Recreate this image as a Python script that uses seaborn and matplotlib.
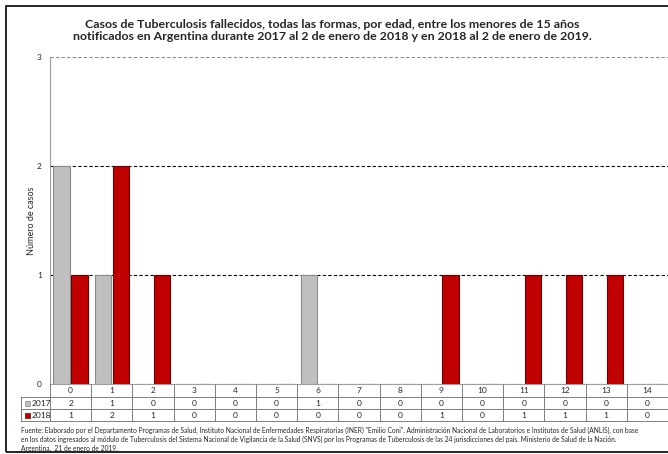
import numpy as np
import pandas as pd
import seaborn as sns
import matplotlib.pyplot as plt
from matplotlib.patches import Rectangle

# datos
edades = list(range(15))
casos_2017 = [2, 1, 0, 0, 0, 0, 1, 0, 0, 0, 0, 0, 0, 0, 0]
casos_2018 = [1, 2, 1, 0, 0, 0, 0, 0, 0, 1, 0, 1, 1, 1, 0]
anios = ["2017", "2018"]
colores = {"2017": "#bfbfbf", "2018": "#c00000"}
bordes = {"2017": "#8c8c8c", "2018": "#6b0000"}

titulo = ("Casos de Tuberculosis fallecidos, todas las formas, por edad, entre los menores de 15 años\n"
          "notificados en Argentina durante 2017 al 2 de enero de 2018 y en 2018 al 2 de enero de 2019.")
fuente = ("Fuente: Elaborado por el Departamento Programas de Salud, Instituto Nacional de Enfermedades Respiratorias (INER) \"Emilio Coni\", Administración Nacional de Laboratorios e Institutos de Salud (ANLIS), con base\n"
          "en los datos ingresados al módulo de Tuberculosis del Sistema Nacional de Vigilancia de la Salud (SNVS) por los Programas de Tuberculosis de las 24 jurisdicciones del país. Ministerio de Salud de la Nación.\n"
          "Argentina,  21 de enero de 2019.")

df = pd.DataFrame({
    "edad": edades * 2,
    "anio": ["2017"] * len(edades) + ["2018"] * len(edades),
    "casos": casos_2017 + casos_2018,
})

sns.set_style("white")
plt.rcParams["font.family"] = ["Lato", "DejaVu Sans"]

W, H = 668, 454
fig = plt.figure(figsize=(W / 100, H / 100), dpi=100)
ax = fig.add_axes([50 / W, 1 - 384 / H, 618 / W, 327 / H])

sns.barplot(data=df, x="edad", y="casos", hue="anio", palette=colores,
            width=0.87, gap=0.08, legend=False, ax=ax, saturation=1)

# bordes de barras
for cont, a in zip(ax.containers, anios):
    for p in cont:
        p.set_edgecolor(bordes[a])
        p.set_linewidth(0.8)

ax.set_xlim(-0.5, 14.5)
ax.set_ylim(0, 3)
ax.set_yticks([0, 1, 2, 3])
ax.set_yticklabels(["0", "1", "2", "3"], fontsize=6)
ax.tick_params(axis="y", length=0, pad=6)
ax.set_xticks([])
ax.set_xlabel("")
ax.set_ylabel("Número de casos", fontsize=6.5)
ax.yaxis.set_label_coords(-14 / 618, 0.5)
for y in [1, 2]:
    ax.axhline(y, color="black", lw=0.8, ls=(0, (3, 2)), zorder=0)
ax.axhline(3, color="#8c8c8c", lw=0.8, ls=(0, (3, 2)), zorder=0)
for s in ["top", "right"]:
    ax.spines[s].set_visible(False)
ax.spines["left"].set_color("#a0a0a0")
ax.spines["bottom"].set_color("#a0a0a0")
ax.spines["left"].set_linewidth(0.8)

# tabla de datos debajo del eje
fx = lambda px: px / W
fy = lambda py: 1 - py / H
x0, x1 = 50, 668
cw = (x1 - x0) / 15
lc = "#7f7f7f"
for r in [397, 409, 421]:
    fig.add_artist(plt.Line2D([fx(21), fx(x1)], [fy(r), fy(r)], color=lc, lw=0.7))
fig.add_artist(plt.Line2D([fx(21), fx(21)], [fy(397), fy(421)], color=lc, lw=0.7))
for i in range(16):
    xx = x0 + i * cw
    fig.add_artist(plt.Line2D([fx(xx), fx(xx)], [fy(384), fy(421)], color=lc, lw=0.7))
for i, e in enumerate(edades):
    xc = fx(x0 + (i + 0.5) * cw)
    fig.text(xc, fy(390.5), str(e), ha="center", va="center", fontsize=6)
    fig.text(xc, fy(403), str(casos_2017[i]), ha="center", va="center", fontsize=6)
    fig.text(xc, fy(415), str(casos_2018[i]), ha="center", va="center", fontsize=6)
for a, yc in zip(anios, [403, 415]):
    fig.add_artist(Rectangle((fx(25), fy(yc + 2.5)), 5 / W, 5 / H, facecolor=colores[a],
                             edgecolor=bordes[a], lw=0.5, transform=fig.transFigure))
    fig.text(fx(32), fy(yc), a, ha="left", va="center", fontsize=6)

# borde exterior
fig.add_artist(Rectangle((fx(6), fy(452)), 670 / W, 446 / H, fill=False,
                         edgecolor="black", lw=1.2, transform=fig.transFigure))

fig.text(fx(332), fy(30.5), titulo, ha="center", va="center", fontsize=8.9,
         fontweight="bold", linespacing=1.1)
fig.text(fx(21), fy(439.5), fuente, ha="left", va="center", fontsize=4.75, linespacing=1.35)

fig.savefig("out.png", dpi=100)
